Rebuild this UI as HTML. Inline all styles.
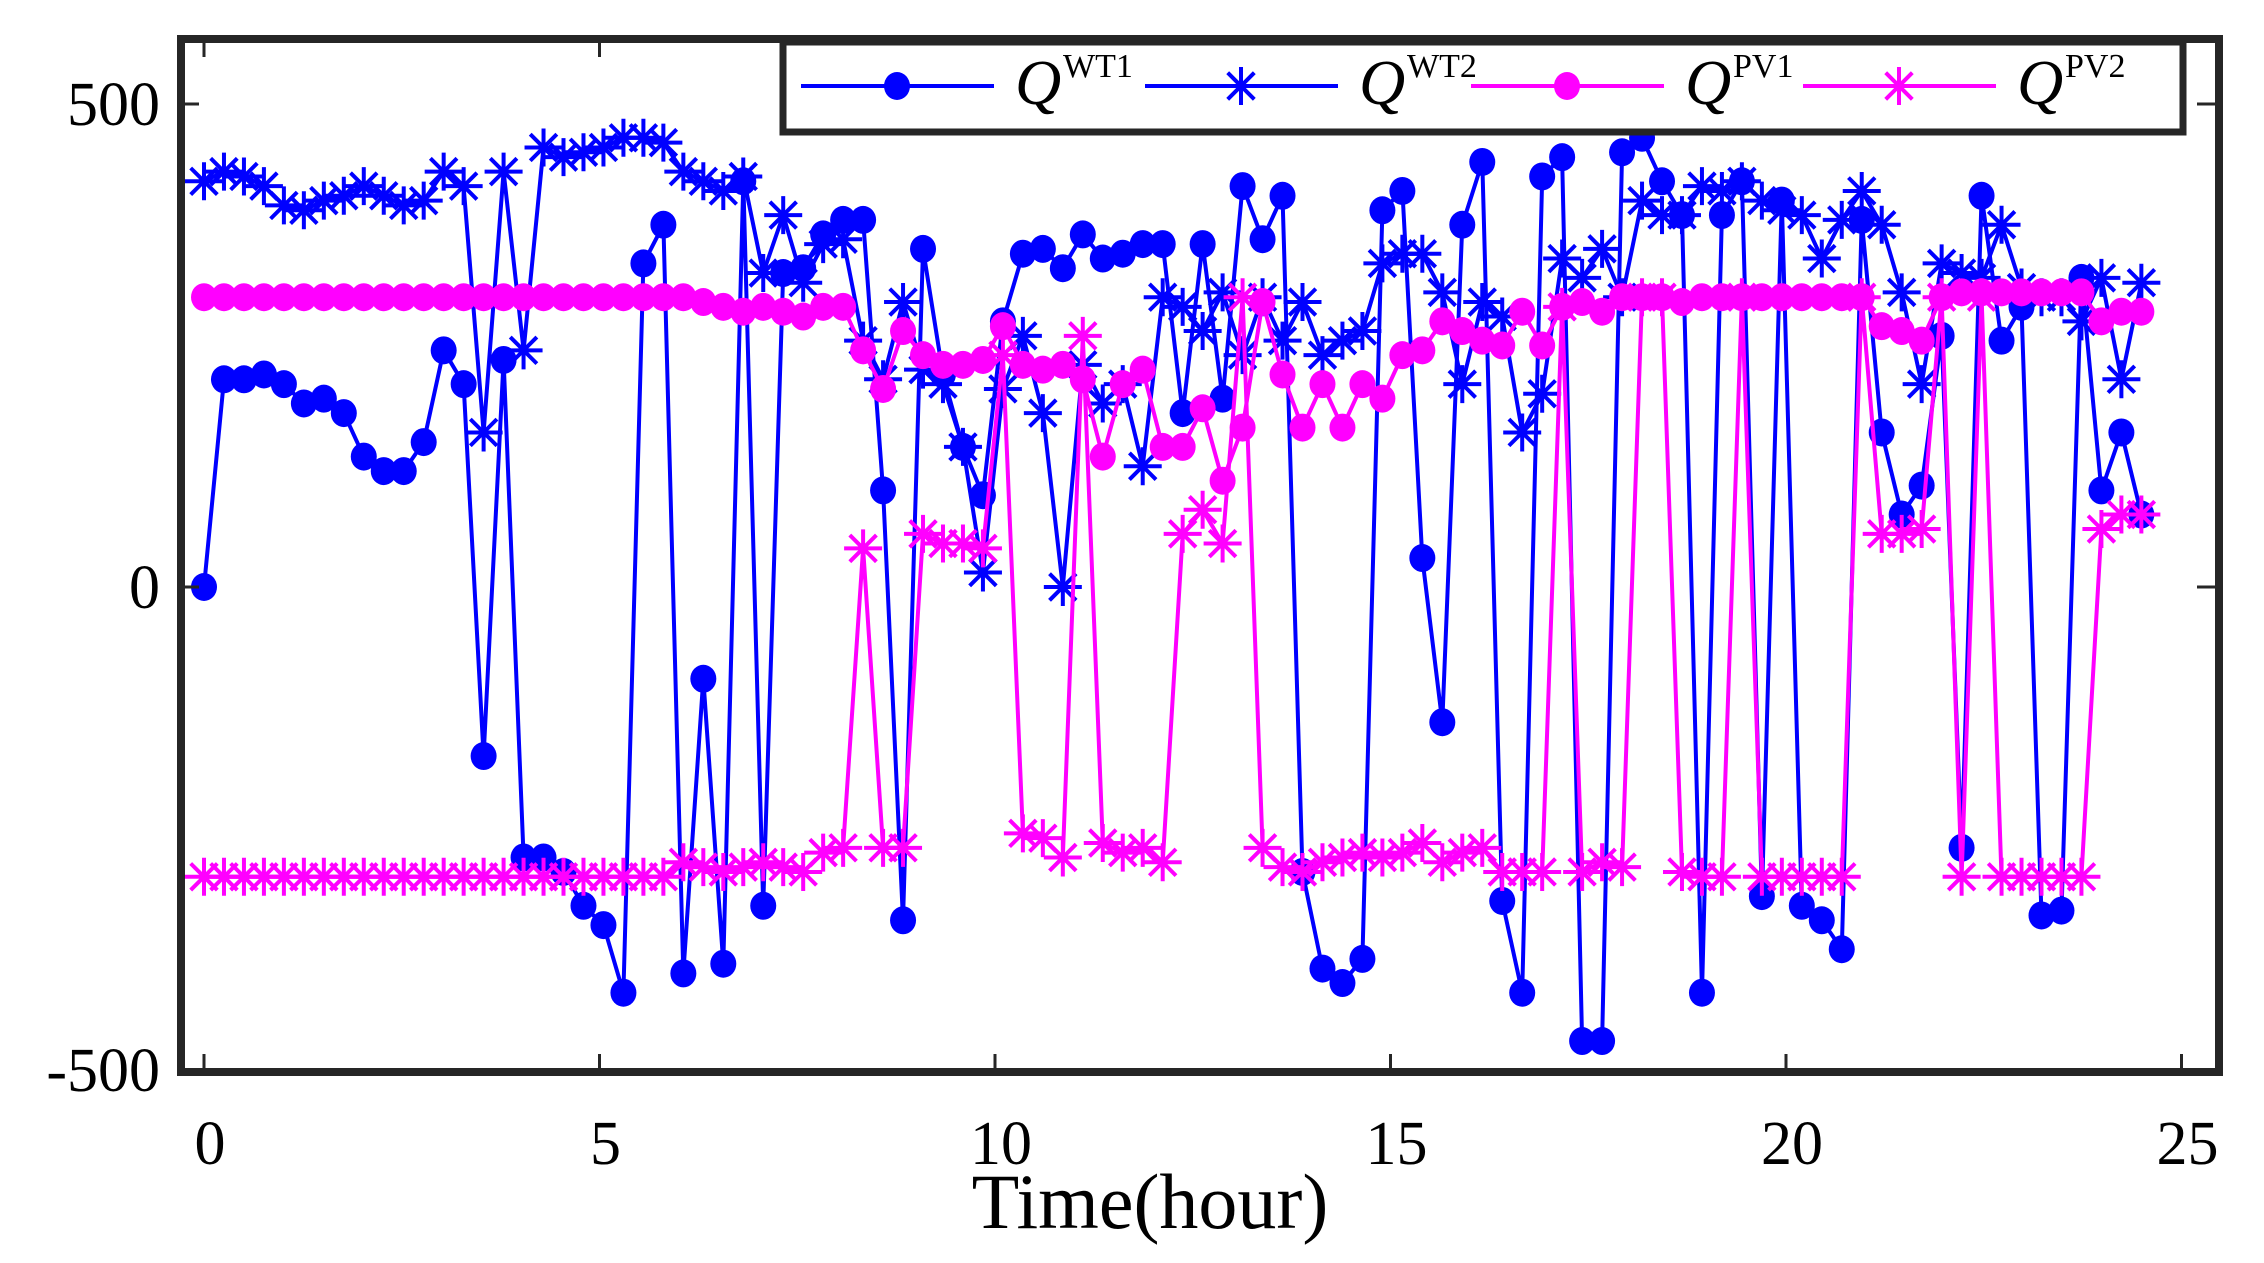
<!DOCTYPE html>
<html><head><meta charset="utf-8"><style>
html,body{margin:0;padding:0;background:#fff;}
svg{display:block;}
text{font-family:"Liberation Serif",serif;fill:#000;}
</style></head><body>
<svg id="chart" width="2264" height="1263" viewBox="0 0 2264 1263" xmlns="http://www.w3.org/2000/svg">
<rect x="0" y="0" width="2264" height="1263" fill="#fff"/>
<g id="series"></g>
<g id="axes"></g>
<g id="legend"></g>
</svg>
<script>
const qWT1=[0,215,215,220,210,190,195,180,135,120,120,150,245,210,-175,235,-280,-280,-295,-330,-350,-420,335,375,-400,-95,-390,420,-330,325,330,365,380,380,100,-345,350,220,145,95,275,345,350,330,365,340,345,355,355,180,355,195,415,360,405,-295,-395,-410,-385,390,410,30,-140,375,440,-325,-420,425,445,-470,-470,450,465,420,385,-420,385,420,-320,400,-330,-345,-375,380,160,75,105,260,-270,405,255,290,-340,-335,320,100,160,75];
const qWT2=[420,430,425,415,395,390,400,405,415,405,395,400,430,415,160,430,245,455,445,450,455,465,465,460,430,420,410,425,325,385,315,355,360,255,215,295,225,210,145,15,205,260,180,0,230,190,210,125,300,290,265,305,240,300,255,295,240,255,265,335,345,345,305,210,295,280,160,200,340,320,350,300,400,385,385,415,410,420,400,390,385,340,380,410,375,305,210,335,325,320,375,310,300,300,275,320,215,315];
const qPV1=[300,300,300,300,300,300,300,300,300,300,300,300,300,300,300,300,300,300,300,300,300,300,300,300,300,295,290,285,290,285,280,290,290,245,205,265,240,230,230,235,270,230,225,230,215,135,210,225,145,145,185,110,165,295,220,165,210,165,210,195,240,245,275,265,255,250,285,250,290,295,285,300,300,300,295,300,300,300,300,300,300,300,300,300,270,265,255,300,305,305,305,305,305,305,305,275,285,285];
const qPV2=[-300,-300,-300,-300,-300,-300,-300,-300,-300,-300,-300,-300,-300,-300,-300,-300,-300,-300,-300,-300,-300,-300,-300,-300,-285,-290,-295,-290,-285,-290,-295,-275,-270,40,-270,-270,55,45,45,40,240,-255,-260,-280,260,-265,-275,-270,-285,55,80,45,300,-270,-290,-295,-285,-280,-275,-280,-275,-265,-285,-275,-270,-295,-295,-295,290,-295,-285,-290,300,300,-295,-300,-300,300,-300,-300,-300,-300,-300,300,55,55,60,300,-300,300,-300,-300,-300,-300,-300,60,75,75];
const xTicks=[0,5,10,15,20,25];
const yTicks=[-500,0,500];
const timeStep=0.2525;

const NS='http://www.w3.org/2000/svg';
const X0=204, XPH=79.1, Y0=587, YPU=0.966;
const L=181,R=2219,T=39,B=1072;
function xs(t){return X0+t*XPH;}
function ys(v){return Y0-v*YPU;}
function mk(tag,attrs,parent){const e=document.createElementNS(NS,tag);for(const k in attrs)e.setAttribute(k,attrs[k]);parent.appendChild(e);return e;}
const gS=document.getElementById('series'),gA=document.getElementById('axes'),gL=document.getElementById('legend');

function star(g,cx,cy,r,color){
  return mk('path',{d:`M${cx-r} ${cy}H${cx+r}M${cx} ${cy-r}V${cy+r}M${cx-r*0.7} ${cy-r*0.7}L${cx+r*0.7} ${cy+r*0.7}M${cx-r*0.7} ${cy+r*0.7}L${cx+r*0.7} ${cy-r*0.7}`,stroke:color,'stroke-width':4,fill:'none'},g);
}
function drawSeries(vals,color,marker,name){
  const g=mk('g',{},gS);
  
  
  const pts=vals.map((v,i)=>xs(i*timeStep).toFixed(1)+','+ys(v).toFixed(1)).join(' ');
  const pl=mk('polyline',{points:pts,fill:'none',stroke:color,'stroke-width':4,'stroke-linejoin':'round'},g);
  
  
  vals.forEach((v,i)=>{
    const cx=xs(i*timeStep),cy=ys(v);
    let m;
    if(marker==='circle'){m=mk('ellipse',{cx:cx,cy:cy,rx:13,ry:14,fill:color},g);}
    else{m=star(g,cx,cy,19,color);}
    
    
  });
}
drawSeries(qWT1,'#0000ff','circle','q-wt1');
drawSeries(qWT2,'#0000ff','star','q-wt2');
drawSeries(qPV1,'#ff00ff','circle','q-pv1');
drawSeries(qPV2,'#ff00ff','star','q-pv2');

const box=mk('rect',{x:L,y:T,width:R-L,height:B-T,fill:'none',stroke:'#262626','stroke-width':8},gA);


xTicks.forEach(t=>{
  const x=xs(t);
  const tk=mk('path',{d:`M${x} ${B}V${B-18}M${x} ${T}V${T+18}`,stroke:'#262626','stroke-width':3},gA);
  
  
  const tx=mk('text',{x:x+6,y:1164,'text-anchor':'middle','font-size':62},gA);
  tx.textContent=t;
  
  
});
yTicks.forEach(v=>{
  const y=ys(v);
  const tk=mk('path',{d:`M${L} ${y}H${L+18}M${R} ${y}H${R-22}`,stroke:'#262626','stroke-width':3},gA);
  
  
  const tx=mk('text',{x:160,y:y+21,'text-anchor':'end','font-size':62},gA);
  tx.textContent=v===-500?'-500':v;
  
  
});
const xt=mk('text',{x:1150,y:1228,'text-anchor':'middle','font-size':78},gA);
xt.textContent='Time(hour)';



const lb=mk('rect',{x:783,y:42,width:1400,height:90,fill:'#fff',stroke:'#262626','stroke-width':7},gL);


const legendItems=[['WT1','#0000ff','circle',801],['WT2','#0000ff','star',1145],['PV1','#ff00ff','circle',1471],['PV2','#ff00ff','star',1803]];
legendItems.forEach(it=>{
  const g=mk('g',{},gL);
  
  
  const x=it[3],y=86;
  mk('line',{x1:x,y1:y,x2:x+193,y2:y,stroke:it[1],'stroke-width':4},g);
  if(it[2]==='circle')mk('ellipse',{cx:x+96,cy:y,rx:13,ry:14,fill:it[1]},g);
  else star(g,x+96,y,19,it[1]);
  const t=mk('text',{x:x+214,y:104,'font-size':64,'font-style':'italic'},g);
  t.textContent='Q';
  const s=mk('text',{x:x+262,y:77,'font-size':34},g);
  s.textContent=it[0];
});
</script>
</body></html>
